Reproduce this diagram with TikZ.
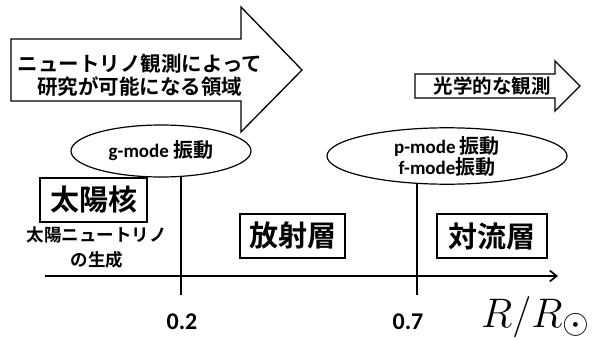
\documentclass[tikz,border=0pt]{standalone}
\usepackage{fontspec}
\newfontfamily\cjk{Noto Sans CJK JP}[BoldFont={Noto Sans CJK JP Bold}]
\newfontfamily\lat{Carlito}
\usetikzlibrary{shapes.geometric,arrows.meta}
\tikzset{
  frame/.style={draw=black,line width=1.3pt,fill=white},
  box/.style={draw=black,line width=1.3pt,fill=white,minimum width=#1,minimum height=44pt,inner sep=0pt,font=\cjk\bfseries\fontsize{29}{32}\selectfont},
  oval/.style={draw=black,line width=1.2pt,ellipse,inner sep=0pt},
  bar/.style={line width=2pt,black},
}
\begin{document}
\begin{tikzpicture}[x=1pt,y=-1pt]
\useasboundingbox (0,0) rectangle (592,340);
% big arrow
\draw[frame] (11,39) -- (241,39) -- (241,7) -- (302,70) -- (241,132) -- (241,101) -- (11,101) -- cycle;
\node[align=center,font=\cjk\bfseries\fontsize{20.5}{23}\selectfont] (big) at (140,75) {ニュートリノ観測によって\\研究が可能になる領域};
% small arrow
\draw[frame] (415,74) -- (555,74) -- (555,61) -- (580,86) -- (555,111) -- (555,98) -- (415,98) -- cycle;
\node[font=\cjk\bfseries\fontsize{19.5}{20}\selectfont] (opt) at (492,86) {光学的な観測};
% ellipses
\node[oval,minimum width=180pt,minimum height=52pt] (g) at (161,151) {\lat\bfseries\fontsize{19}{20}\selectfont g-mode {\cjk\fontsize{20}{20}\selectfont 振動}};
\node[oval,minimum width=240pt,minimum height=54pt,align=center] (p) at (447,156) {\lat\bfseries\fontsize{19}{24}\selectfont p-mode {\cjk\fontsize{20}{20}\selectfont 振動}\\\lat\bfseries\fontsize{19}{24}\selectfont f-mode{\cjk\fontsize{20}{20}\selectfont 振動}};
% axis
\coordinate (a0) at (45,276);
\coordinate (a1) at (558,276);
\draw[bar,-{Straight Barb[length=7pt,width=11pt,line width=1.6pt]}] (a0) -- (a1);
\coordinate (t1top) at (181,177);
\coordinate (t1bot) at (181,295);
\coordinate (t2top) at (417,183);
\coordinate (t2bot) at (417,295);
\draw[bar] (t1top) -- (t1bot);
\draw[bar] (t2top) -- (t2bot);
% boxes
\node[box=107pt] (core) at (93.5,200) {太陽核};
\node[box=105pt] (rad) at (292.5,236) {放射層};
\node[box=110pt] (conv) at (492,236) {対流層};
\node[align=center,font=\cjk\bfseries\fontsize{17.5}{25}\selectfont] (nu) at (97,247) {太陽ニュートリノ\\の生成};
% labels
\node[font=\lat\bfseries\fontsize{24}{24}\selectfont] (l2) at (182,322) {0.2};
\node[font=\lat\bfseries\fontsize{24}{24}\selectfont] (l7) at (408,322) {0.7};
\node[anchor=base west,inner sep=0pt] (rr) at (481,327) {\scalebox{1.66}{\fontsize{24.88}{25}\selectfont$R/R_\odot$}};
\end{tikzpicture}
\end{document}
